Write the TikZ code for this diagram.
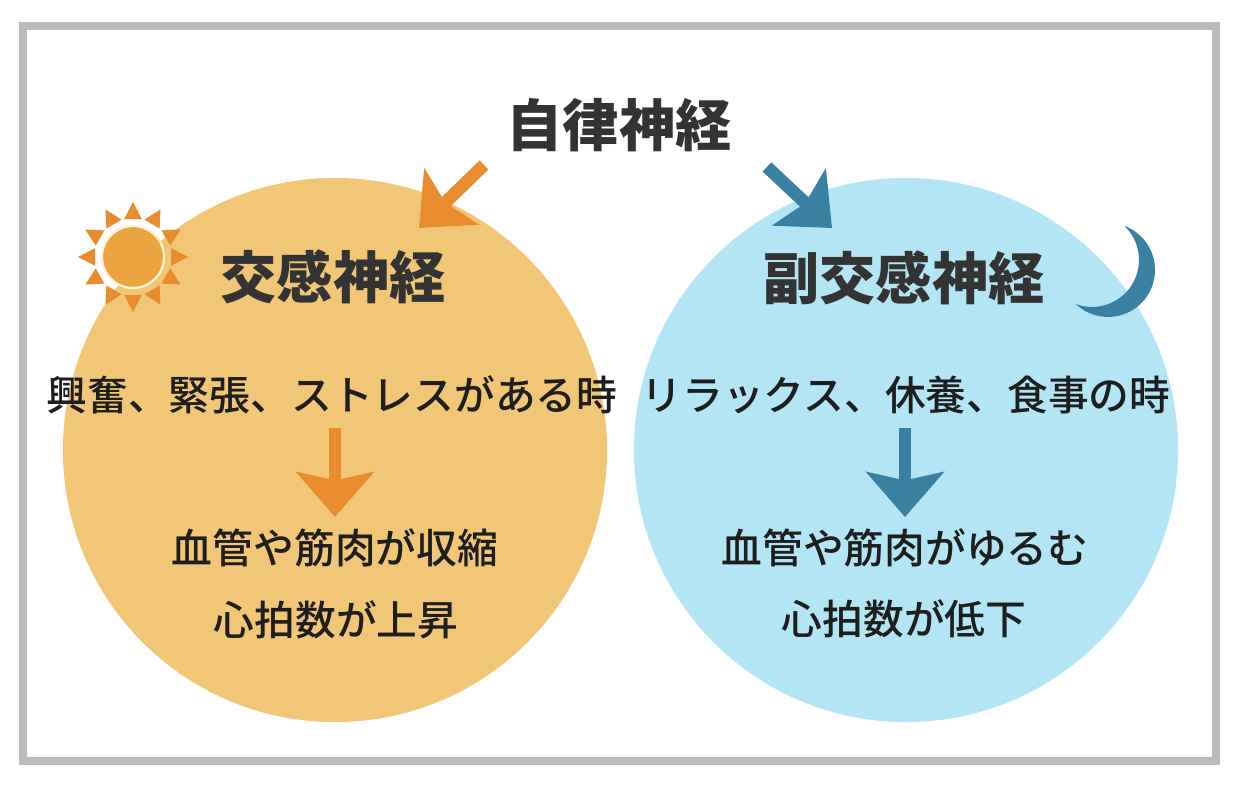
\documentclass[tikz,border=0pt]{standalone}
\usepackage{fontspec}
\newfontfamily\jpfont{Noto Sans CJK JP}
\newfontfamily\jpmed{Noto Sans CJK JP Medium}
\usetikzlibrary{arrows.meta}
\definecolor{symfill}{HTML}{F1C777}
\definecolor{parafill}{HTML}{B3E5F5}
\definecolor{symarrow}{HTML}{E88C2E}
\definecolor{paraarrow}{HTML}{3A80A0}
\definecolor{sundisc}{HTML}{EBA440}
\definecolor{sunring}{HTML}{FFF3D8}
\definecolor{headtext}{HTML}{333333}
\definecolor{bodytext}{HTML}{1E1E1E}
\definecolor{framegray}{HTML}{BBBBBB}
\tikzstyle{bigcircle} = [circle,
                      inner sep=0pt,
                      minimum size=13.6cm,
                      draw=none]
\tikzstyle{headtxt} = [inner sep=0pt,
                      text height=29.6pt,
                      text depth=3.2pt,
                      text=headtext,
                      font=\jpfont\bfseries\fontsize{40pt}{40pt}\selectfont]
\tikzstyle{bodytxt} = [inner sep=0pt,
                      text height=21.5pt,
                      text depth=2.3pt,
                      text=bodytext,
                      font=\jpmed\fontsize{29pt}{29pt}\selectfont]
\tikzstyle{fatarrow} = [line width=9pt,
                      -{Stealth[length=32pt,width=55pt,inset=6pt]}]
\begin{document}
\begin{tikzpicture}[x=0.025cm,y=-0.025cm]
     \useasboundingbox (0,0) rectangle (1244,784);
     \fill[white] (0,0) rectangle (1244,784);
     \draw[framegray, line width=5.7pt] (23,26) rectangle (1216,761);
     % the two circles
     \node [bigcircle, fill=symfill] (sym) at (335,450) {};
     \node [bigcircle, fill=parafill] (para) at (906,450) {};
     % sun
     \begin{scope}[shift={(133,257)}]
     	\foreach \a in {0,30,...,330}
     		\fill[symarrow] (\a:55) -- (\a+13:39) -- (\a-13:39) -- cycle;
     	\fill[sundisc, draw=sunring, line width=1.6pt] (0,0) circle (31);
     \end{scope}
     % moon
     \fill[paraarrow] (1124.4,225.9) arc[start angle=-69.6, end angle=133.6, radius=47]
     	arc[start angle=110.4, end angle=-46.4, radius=47] -- cycle;
     % texts
     \node [headtxt] (auto) at (619,128) {自律神経};
     \node [headtxt] (symname) at (333,280) {交感神経};
     \node [headtxt] (paraname) at (904,281) {副交感神経};
     \node [bodytxt] (symcause) at (332,397) {興奮、緊張、ストレスがある時};
     \node [bodytxt] (paracause) at (906,397) {リラックス、休養、食事の時};
     \node [bodytxt] (symres) at (335,550) {血管や筋肉が収縮};
     \node [bodytxt] (symbeat) at (336,622) {心拍数が上昇};
     \node [bodytxt] (parares) at (905,550) {血管や筋肉がゆるむ};
     \node [bodytxt] (parabeat) at (904,621) {心拍数が低下};
     % arrows
     \coordinate (symfrom) at (484,165);
     \coordinate (symto) at (419,228);
     \coordinate (parafrom) at (767,167);
     \coordinate (parato) at (832,228);
     \coordinate (symdown) at (335,428);
     \coordinate (symdownend) at (335,517);
     \coordinate (paradown) at (905,428);
     \coordinate (paradownend) at (905,517);
     \draw [fatarrow, symarrow] (symfrom) -- (symto);
     \draw [fatarrow, paraarrow] (parafrom) -- (parato);
     \draw [fatarrow, symarrow] (symdown) -- (symdownend);
     \draw [fatarrow, paraarrow] (paradown) -- (paradownend);
\end{tikzpicture}
\end{document}
